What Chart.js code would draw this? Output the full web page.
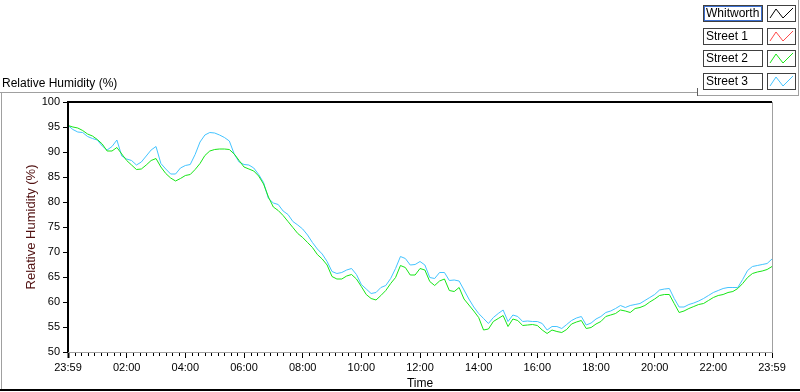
<!DOCTYPE html>
<html>
<head>
<meta charset="utf-8">
<script src="https://cdn.jsdelivr.net/npm/chart.js@4.4.1/dist/chart.umd.min.js"></script>
<style>
  html, body { margin: 0; padding: 0; background: #fff; }
  #wrap { width: 800px; height: 392px; }
</style>
</head>
<body>
<div id="wrap"><canvas id="chart" width="800" height="392"></canvas></div>
<script>
// sample times, minutes after 23:59
const minutes = [
  0, 10, 20, 30, 40, 50, 60, 70, 80, 90, 100, 110,
  120, 130, 140, 150, 160, 170, 180, 190, 200, 210, 220, 230,
  240, 250, 260, 270, 280, 290, 300, 310, 320, 330, 340, 350,
  360, 370, 380, 390, 400, 410, 420, 430, 440, 450, 460, 470,
  480, 490, 500, 510, 520, 530, 540, 550, 560, 570, 580, 590,
  600, 610, 620, 630, 640, 650, 660, 670, 680, 690, 700, 710,
  720, 730, 740, 750, 760, 770, 780, 790, 800, 810, 820, 830,
  840, 850, 860, 870, 880, 890, 900, 910, 920, 930, 940, 950,
  960, 970, 980, 990, 1000, 1010, 1020, 1030, 1040, 1050, 1060, 1070,
  1080, 1090, 1100, 1110, 1120, 1130, 1140, 1150, 1160, 1170, 1180, 1190,
  1200, 1210, 1220, 1230, 1240, 1250, 1260, 1270, 1280, 1290, 1300, 1310,
  1320, 1330, 1340, 1350, 1360, 1370, 1380, 1390, 1400, 1410, 1420, 1430,
  1440
];
const whitworth = [];
const street1 = [];
const street2 = [
  95.3, 95.0, 94.8, 94.3, 93.6, 93.2, 92.5, 91.6, 90.2, 90.2, 90.9, 89.6,
  88.3, 87.4, 86.5, 86.6, 87.4, 88.3, 88.7, 87.0, 85.7, 84.8, 84.2, 84.7,
  85.3, 85.5, 86.5, 87.7, 89.3, 90.2, 90.5, 90.6, 90.6, 90.5, 89.6, 88.3,
  87.0, 86.6, 86.2, 85.2, 83.6, 81.0, 79.0, 78.3, 77.3, 76.1, 74.9, 73.7,
  72.9, 71.9, 70.9, 69.5, 68.6, 67.4, 65.1, 64.6, 64.6, 65.2, 65.5, 64.6,
  63.1, 61.5, 60.7, 60.4, 61.3, 62.3, 63.7, 64.9, 67.3, 66.9, 65.4, 65.4,
  66.7, 66.4, 64.1, 63.3, 64.2, 64.6, 62.3, 62.1, 62.9, 60.6, 59.4, 58.2,
  56.9, 54.4, 54.6, 56.1, 56.7, 57.3, 55.1, 56.6, 56.3, 55.3, 55.4, 55.5,
  55.3, 54.4, 53.7, 54.4, 54.1, 53.9, 54.5, 55.6, 56.0, 56.3, 54.7, 54.9,
  55.6, 56.1, 57.1, 57.4, 57.7, 58.4, 58.2, 57.9, 58.7, 58.9, 59.3, 60.0,
  60.6, 61.3, 61.5, 61.5, 59.7, 57.9, 58.2, 58.7, 59.1, 59.5, 59.7, 60.3,
  60.9, 61.3, 61.5, 61.9, 62.1, 62.7, 63.7, 64.9, 65.7, 66.0, 66.2, 66.5,
  67.1
];
const street3 = [
  95.3, 94.5, 94.0, 93.9, 93.1, 92.7, 92.4, 91.2, 90.4, 91.1, 92.4, 89.2,
  88.6, 88.3, 87.4, 88.0, 89.2, 90.4, 91.1, 87.7, 86.6, 85.6, 85.6, 86.8,
  87.3, 87.5, 89.5, 92.0, 93.4, 93.9, 93.8, 93.4, 92.9, 92.2, 89.6, 88.0,
  87.5, 87.4, 86.8, 85.5, 83.9, 80.7, 79.8, 79.5, 78.2, 77.5, 76.1, 75.4,
  74.6, 73.4, 71.9, 70.6, 69.6, 68.1, 66.1, 65.7, 65.9, 66.4, 66.7, 65.5,
  63.5, 62.6, 61.7, 61.9, 62.9, 63.3, 64.7, 66.7, 69.1, 68.7, 67.4, 67.5,
  68.1, 67.4, 64.9, 64.7, 65.9, 65.9, 64.3, 64.4, 64.2, 62.4, 60.6, 59.0,
  57.7, 56.7, 55.7, 56.9, 57.7, 58.4, 56.1, 57.4, 57.1, 56.1, 56.2, 56.1,
  56.1, 55.7, 54.4, 55.1, 55.1, 54.7, 55.5, 56.3, 56.8, 57.1, 55.4, 55.8,
  56.6, 57.1, 57.9, 58.2, 58.7, 59.3, 58.9, 59.3, 59.5, 59.7, 60.3, 60.9,
  61.5, 62.4, 62.6, 62.7, 60.7, 59.0, 59.0, 59.5, 59.8, 60.2, 60.7, 61.3,
  61.9, 62.3, 62.7, 62.9, 62.9, 62.9, 64.5, 66.3, 67.1, 67.3, 67.5, 67.7,
  68.6
];
const timeLabels = ["23:59", "02:00", "04:00", "06:00", "08:00", "10:00", "12:00",
  "14:00", "16:00", "18:00", "20:00", "22:00", "23:59"];
const seriesNames = ["Whitworth", "Street 1", "Street 2", "Street 3"];
const seriesColors = ["#000000", "#ff4a4a", "#17e617", "#44c4ff"];

const FONT = "'Liberation Sans', Arial, sans-serif";
const toPoints = (vals) => vals.map((v, i) => ({ x: minutes[i], y: v }));

// frame, minor ticks and the boxed legend on the right
const framePlugin = {
  id: "frame",
  beforeDraw(chart) {
    const { ctx } = chart;
    ctx.save();
    ctx.fillStyle = "#ffffff";
    ctx.fillRect(0, 0, chart.width, chart.height);
    ctx.restore();
  },
  afterDraw(chart) {
    const { ctx, chartArea: a } = chart;
    const xs = chart.scales.x;
    ctx.save();
    // plot border
    ctx.fillStyle = "#a0a0a0";
    ctx.fillRect(a.right, a.top, 1, a.bottom - a.top);
    ctx.fillRect(a.left, a.bottom, a.right - a.left + 1, 1);
    ctx.fillStyle = "#000000";
    ctx.fillRect(a.left - 1, a.top - 1, a.right - a.left + 1, 2);
    ctx.fillRect(a.left - 1, a.top - 1, 2, a.bottom - a.top + 1);
    // minor x ticks
    for (let k = 0; k <= 108; k++) {
      if (k % 9 === 0) continue;
      const px = Math.round(xs.getPixelForValue((k * 120) / 9));
      ctx.fillRect(px, a.bottom + 1, 1, 3);
    }
    // outer panel lines
    ctx.fillStyle = "#a0a0a0";
    ctx.fillRect(0, 92, 697, 1);
    ctx.fillRect(1, 92, 1, 298);
    ctx.fillRect(697, 95, 102, 1);
    ctx.fillRect(798, 0, 1, 96);
    ctx.fillStyle = "#606060";
    ctx.fillRect(697, 88, 1, 8);
    ctx.fillStyle = "#000000";
    ctx.fillRect(0, 389, 800, 2);
    // legend
    ctx.font = "12px " + FONT;
    ctx.textBaseline = "middle";
    chart.data.datasets.forEach((ds, i) => {
      const y = Math.round(5 + i * 22.6);
      ctx.lineWidth = 1;
      ctx.strokeStyle = "#404040";
      ctx.strokeRect(703.5, y + 0.5, 59, 16);
      ctx.strokeRect(767.5, y + 0.5, 28, 16);
      if (i === 0) {
        ctx.strokeStyle = "#3c6fd0";
        ctx.strokeRect(704.5, y + 1.5, 57, 14);
      }
      ctx.fillStyle = "#000000";
      ctx.fillText(ds.label, 706, y + 9);
      ctx.strokeStyle = ds.borderColor;
      ctx.beginPath();
      ctx.moveTo(770, y + 13);
      ctx.lineTo(776, y + 4);
      ctx.lineTo(783, y + 13);
      ctx.lineTo(793, y + 3);
      ctx.stroke();
    });
    ctx.restore();
  },
};

const datasets = [whitworth, street1, street2, street3].map((vals, i) => ({
  label: seriesNames[i],
  data: toPoints(vals),
  borderColor: seriesColors[i],
  backgroundColor: seriesColors[i],
  borderWidth: 1,
  pointRadius: 0,
  tension: 0,
  fill: false,
}));

new Chart(document.getElementById("chart"), {
  type: "line",
  data: { datasets },
  plugins: [framePlugin],
  options: {
    responsive: false,
    animation: false,
    layout: { padding: { left: 2, right: 28, top: 0, bottom: 0 } },
    plugins: {
      legend: { display: false },
      tooltip: { enabled: false },
      title: {
        display: true,
        text: "Relative Humidity (%)",
        align: "start",
        color: "#000000",
        font: { family: FONT, size: 12, weight: "normal" },
        padding: { top: 76, bottom: 11.6 },
      },
    },
    scales: {
      x: {
        type: "linear",
        min: 0,
        max: 1440,
        afterFit: (s) => { s.height = 40; },
        ticks: {
          stepSize: 120,
          autoSkip: false,
          maxRotation: 0,
          padding: 3,
          color: "#000000",
          font: { family: FONT, size: 11 },
          callback: (v) => timeLabels[Math.round(v / 120)],
        },
        grid: {
          drawOnChartArea: false,
          drawTicks: true,
          tickLength: 6,
          tickColor: "#000000",
          tickWidth: (c) => (c.index === 0 ? 2 : 1),
        },
        border: { display: false },
        title: {
          display: true,
          text: "Time",
          color: "#000000",
          font: { family: FONT, size: 12 },
          padding: { top: 0, bottom: 1 },
        },
      },
      y: {
        min: 50,
        max: 100,
        afterFit: (s) => { s.width = 66; },
        ticks: {
          stepSize: 5,
          padding: 3,
          color: "#000000",
          font: { family: FONT, size: 11 },
        },
        grid: {
          drawOnChartArea: false,
          drawTicks: true,
          tickLength: 5,
          tickColor: "#000000",
        },
        border: { display: false },
        title: {
          display: true,
          text: "Relative Humidity (%)",
          color: "#501010",
          font: { family: FONT, size: 13 },
          padding: { top: 22, bottom: 0 },
        },
      },
    },
  },
});
</script>
</body>
</html>
